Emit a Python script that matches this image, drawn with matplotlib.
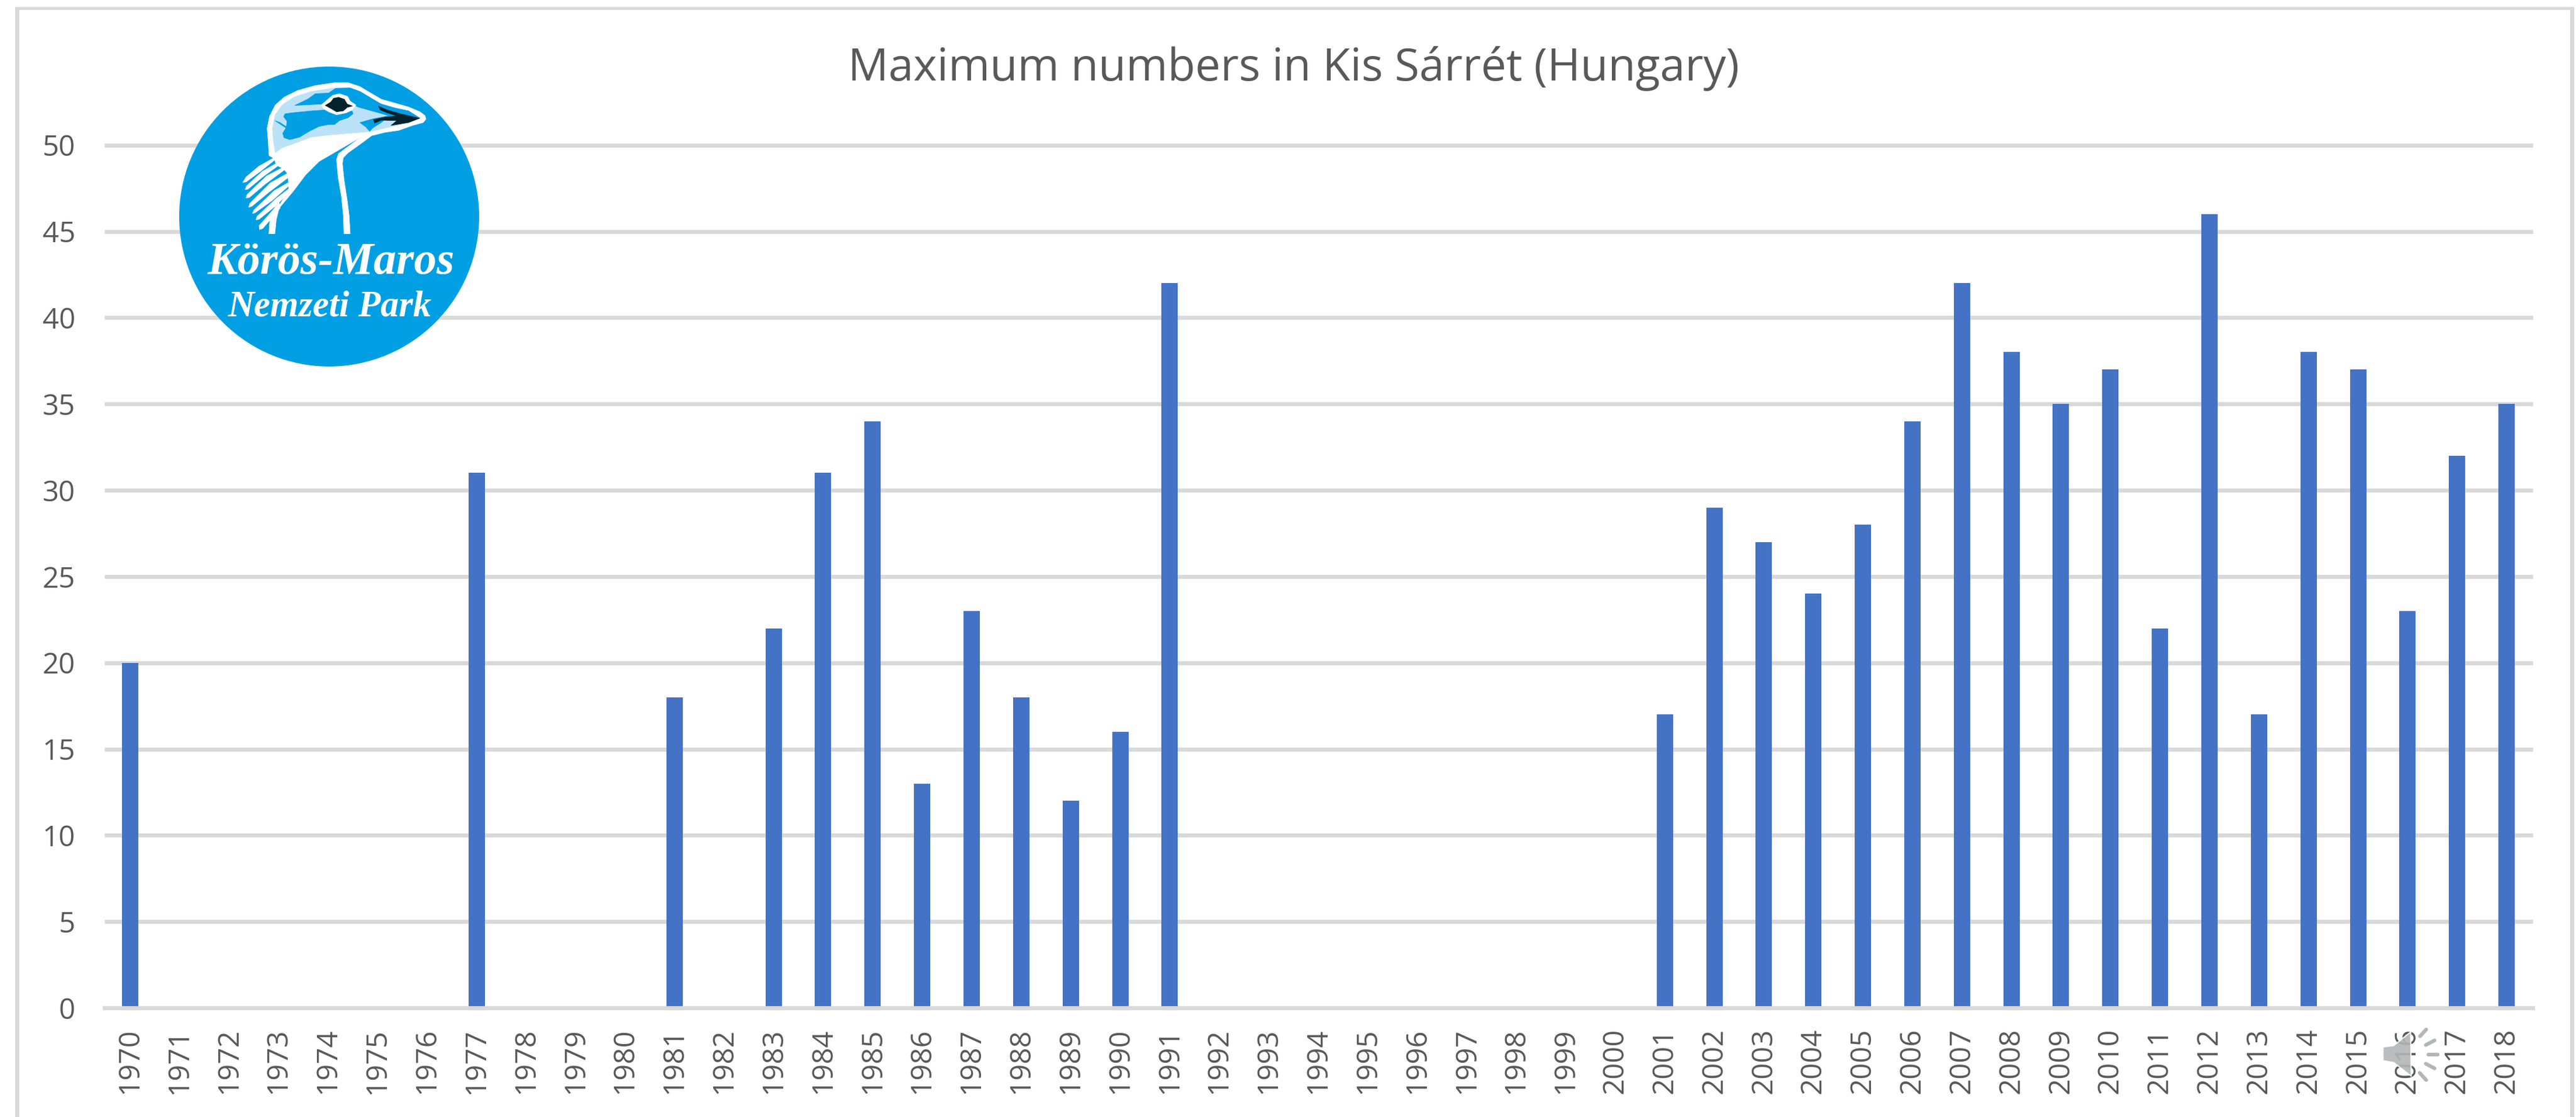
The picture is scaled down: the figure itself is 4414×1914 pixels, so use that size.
import matplotlib
matplotlib.use("Agg")
import matplotlib.pyplot as plt
import matplotlib.patheffects as pe
from matplotlib.patches import Circle, Polygon, Rectangle

# ---- data ----
years = list(range(1970, 2019))
observed_years = [1970, 1977, 1981, 1983, 1984, 1985, 1986, 1987, 1988, 1989, 1990, 1991,
                  2001, 2002, 2003, 2004, 2005, 2006, 2007, 2008, 2009, 2010, 2011, 2012,
                  2013, 2014, 2015, 2016, 2017, 2018]
observed_counts = [20, 31, 18, 22, 31, 34, 13, 23, 18, 12, 16, 42,
                   17, 29, 27, 24, 28, 34, 42, 38, 35, 37, 22, 46,
                   17, 38, 37, 23, 32, 35]
y_ticks = [0, 5, 10, 15, 20, 25, 30, 35, 40, 45, 50]
title = "Maximum numbers in Kis Sárrét (Hungary)"

W, H = 4414, 1914
GREY = "#D9D9D9"
TXT = "#595959"
BAR = "#4472C4"
plt.rcParams["font.family"] = ["Open Sans", "DejaVu Sans"]

fig = plt.figure(figsize=(W / 100, H / 100), dpi=100, facecolor="white")
left, right, top, bottom = 179, 4340, 248.7, 1727
ax = fig.add_axes([left / W, 1 - bottom / H, (right - left) / W, (bottom - top) / H])

positions = {y: i for i, y in enumerate(years)}
ax.bar([positions[y] for y in observed_years], observed_counts, width=0.33,
       color=BAR, zorder=2)
ax.set_xlim(-0.515, len(years) - 1 + 0.53)
ax.set_ylim(0, 50)
ax.set_xticks(range(len(years)))
ax.set_xticklabels([str(y) for y in years], rotation=90, fontsize=35.5, color=TXT)
ax.set_yticks(y_ticks)
ax.set_yticklabels([str(v) for v in y_ticks], fontsize=35.5, color=TXT)
ax.tick_params(axis="x", length=0, pad=25)
ax.tick_params(axis="y", length=0, pad=36)
ax.grid(axis="y", color=GREY, linewidth=5, zorder=1)
ax.set_axisbelow(True)
for s_name in ["top", "left", "right"]:
    ax.spines[s_name].set_visible(False)
ax.spines["bottom"].set_color(GREY)
ax.spines["bottom"].set_linewidth(5)
ax.spines["bottom"].set_zorder(3)
for gl in ax.yaxis.get_gridlines():
    gl.set_clip_on(False)
    gl.set_solid_capstyle("butt")

# overlay in reference pixel coordinates
ov = fig.add_axes([0, 0, 1, 1], facecolor="none")
ov.set_xlim(0, W)
ov.set_ylim(H, 0)
ov.axis("off")

ov.text(2217, 118, title, fontsize=55.5, color=TXT, ha="center", va="center")

# chart frame
for x, y, w, h in [(26, 12, 7, H), (26, 12, 4385, 5), (4404, 12, 7, H)]:
    ov.add_patch(Rectangle((x, y), w, h, fc=GREY, ec="none"))

# logo
LOGO_BLUE = "#009FE3"
LIGHT = "#BCE2F8"
DARK = "#03222E"
ov.add_patch(Circle((564, 371), 257, fc=LOGO_BLUE, ec="none", zorder=5))


def z(points):
    return [(400 + x / 3, 130 + y / 3) for x, y in points]


def poly(points, color, zo=6):
    ov.add_patch(Polygon(z(points), closed=True, fc=color, ec=color, lw=0.5,
                         joinstyle="round", zorder=zo))


head = [(183, 410), (178, 330), (173, 270), (185, 210), (215, 150), (260, 110), (330, 75),
        (420, 50), (520, 35), (590, 35), (650, 55), (700, 85), (760, 120), (830, 140),
        (900, 160), (960, 185), (985, 205), (990, 222), (975, 240), (920, 255), (850, 280),
        (780, 290), (720, 305), (655, 315), (440, 440), (370, 510), (310, 590), (235, 680),
        (220, 740), (213, 812), (182, 812), (187, 745), (285, 585), (280, 505), (255, 475),
        (220, 460), (210, 425)]
neck = [(720, 300), (660, 345), (590, 395), (565, 420), (560, 450), (568, 530), (585, 640),
        (595, 720), (600, 812), (568, 812), (565, 720), (555, 620), (538, 520), (530, 430),
        (540, 400), (580, 370), (655, 315)]
inner = [(215, 395), (205, 330), (200, 270), (215, 200), (250, 150), (310, 110), (400, 80),
         (520, 62), (600, 62), (650, 80), (700, 110), (760, 145), (830, 165), (900, 180),
         (958, 217), (900, 240), (820, 260), (750, 275), (700, 287), (600, 295), (480, 305),
         (400, 315), (320, 345), (250, 370)]
crown = [(525, 64), (600, 62), (650, 80), (700, 110), (760, 145), (830, 165), (900, 180),
         (958, 217), (800, 205), (640, 160), (610, 145), (590, 105), (545, 92), (510, 100),
         (480, 125), (452, 145), (315, 152), (385, 118), (420, 92), (490, 88)]
cheek = [(265, 195), (300, 190), (400, 180), (470, 175), (520, 195), (570, 190), (610, 180),
         (615, 195), (590, 215), (545, 230), (520, 250), (490, 250), (440, 260), (390, 285),
         (340, 315), (290, 328), (260, 318), (253, 295), (270, 268), (213, 230), (240, 240),
         (272, 262), (275, 232), (258, 210)]
jaw = [(650, 240), (720, 220), (800, 205), (760, 240), (720, 265), (700, 285), (680, 262)]
eye_ring = [(452, 152), (480, 125), (510, 100), (545, 92), (585, 105), (600, 130), (630, 150),
            (610, 175), (580, 190), (530, 200), (490, 185), (465, 170)]
eye = [(472, 152), (500, 135), (515, 115), (540, 110), (570, 120), (585, 145), (612, 155),
       (585, 162), (565, 180), (530, 185), (505, 170)]
beak = [(745, 155), (790, 175), (860, 195), (958, 218), (900, 240), (810, 255), (840, 230),
        (760, 228), (725, 243), (720, 225), (780, 212), (840, 205), (790, 190), (755, 175)]
feathers = [[(48, 548), (65, 520), (130, 465), (210, 420), (215, 430), (140, 490), (65, 545)],
            [(60, 585), (68, 565), (150, 490), (220, 450), (225, 465), (150, 520), (75, 582)],
            [(65, 628), (70, 610), (170, 515), (255, 470), (260, 485), (165, 555), (82, 625)],
            [(78, 676), (85, 655), (190, 550), (280, 500), (285, 520), (180, 600), (95, 670)],
            [(98, 708), (105, 690), (210, 590), (280, 550), (285, 565), (200, 640), (112, 703)],
            [(116, 740), (122, 722), (220, 630), (285, 580), (290, 595), (215, 670), (132, 737)],
            [(134, 790), (132, 770), (190, 705), (235, 650), (240, 680), (185, 745), (150, 785)]]

poly(head, "white")
poly(neck, "white")
for f in feathers:
    poly(f, "white")
poly(inner, LIGHT, 7)
poly(crown, LOGO_BLUE, 8)
poly(cheek, LOGO_BLUE, 8)
poly(jaw, LOGO_BLUE, 8)
poly(eye_ring, "white", 9)
poly(eye, DARK, 10)
poly(beak, DARK, 10)

ov.text(567, 450, "Körös-Maros", fontsize=56, family="Liberation Serif", style="italic",
        weight="bold", color="white", ha="center", va="center", zorder=11)
ov.text(565, 527, "Nemzeti Park", fontsize=45, family="Liberation Serif", style="italic",
        weight="bold", color="white", ha="center", va="center", zorder=11)


# speaker icon
def s(points):
    return [(3900 + x / 3, 1600 + y / 3) for x, y in points]


ov.add_patch(Polygon(s([(550, 582), (605, 575), (692, 505), (695, 732), (605, 662), (550, 652)]),
                     closed=True, fc="#B4B5B7", ec="white", lw=1.5, alpha=0.9,
                     joinstyle="round", zorder=12))
for a, b in [((740, 527), (772, 492)), ((770, 572), (815, 548)), ((782, 622), (830, 622)),
             ((770, 668), (815, 692)), ((738, 715), (772, 752))]:
    (x0, y0), (x1, y1) = s([a, b])
    ov.plot([x0, x1], [y0, y1], color="#B4B5B7", lw=4.5, solid_capstyle="round", zorder=12,
            path_effects=[pe.Stroke(linewidth=7.5, foreground="white"), pe.Normal()])

ov.set_xlim(0, W)
ov.set_ylim(H, 0)
fig.savefig("out.png", dpi=100, facecolor="white")
